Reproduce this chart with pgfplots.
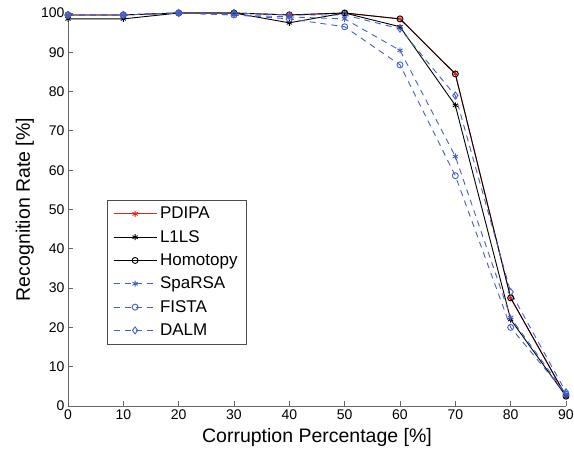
\documentclass[border=0pt]{standalone}
\usepackage{pgfplots}
\pgfplotsset{compat=1.18}
\usepackage{fontspec}
\setmainfont{Liberation Sans}
\definecolor{mblue}{RGB}{70,95,200}
\definecolor{mred}{RGB}{225,35,25}
\begin{document}
\begin{tikzpicture}
\begin{axis}[
  width=498pt, height=393pt, scale only axis,
  xmin=0, xmax=90, ymin=0, ymax=100,
  xtick={0,10,...,90}, ytick={0,10,...,100},
  axis x line*=bottom, axis y line*=left,
  axis line style={black!60, line width=0.8pt},
  tick style={black!60, line width=0.8pt},
  tick align=inside, major tick length=5pt,
  /pgf/number format/assume math mode=true,
  tick label style={font=\fontsize{14}{16}\selectfont},
  xlabel={Corruption Percentage [\%]},
  ylabel={Recognition Rate [\%]},
  every axis x label/.style={at={(axis description cs:0.5,0)}, anchor=base, yshift=-37pt, font=\fontsize{19.5}{22}\selectfont},
  every axis y label/.style={at={(axis description cs:0,0.5)}, anchor=base, rotate=90, yshift=38pt, font=\fontsize{19.5}{22}\selectfont},
  legend style={at={(0.078,0.157)}, anchor=south west, draw=black!70, line width=0.6pt,
    font=\fontsize{17}{19}\selectfont, row sep=6pt, inner xsep=6pt, inner ysep=5pt,
    nodes={inner xsep=3pt}},
  legend cell align=left,
  legend image code/.code={\draw[mark repeat=2,mark phase=2] plot coordinates {(0pt,0pt)(21.5pt,0pt)(43pt,0pt)};},
  clip=false,
]
\addplot[mred, line width=0.9pt, mark=asterisk, mark size=3pt] coordinates {
(0,99.5)(10,99.5)(20,100)(30,100)(40,99.5)(50,100)(60,98.5)(70,84.5)(80,27.5)(90,2.5)};
\addlegendentry{PDIPA}
\addplot[black, line width=0.9pt, mark=asterisk, mark size=3pt] coordinates {
(0,98.5)(10,98.5)(20,100)(30,100)(40,97.5)(50,100)(60,96.5)(70,76.5)(80,22)(90,2.5)};
\addlegendentry{L1LS}
\addplot[black, line width=0.9pt, mark=o, mark size=3pt] coordinates {
(0,99.5)(10,99.5)(20,100)(30,100)(40,99.5)(50,100)(60,98.5)(70,84.5)(80,27.5)(90,2.5)};
\addlegendentry{Homotopy}
\addplot[mblue, line width=0.9pt, dash pattern=on 6pt off 5pt, mark=asterisk, mark size=3pt, mark options={solid}] coordinates {
(0,99.5)(10,99.5)(20,100)(30,99.5)(40,99)(50,98.5)(60,90.5)(70,63.5)(80,22.5)(90,3)};
\addlegendentry{SpaRSA}
\addplot[mblue, line width=0.9pt, dash pattern=on 6pt off 5pt, mark=o, mark size=3pt, mark options={solid}] coordinates {
(0,99.5)(10,99.5)(20,100)(30,99.5)(40,98.5)(50,96.5)(60,86.8)(70,58.6)(80,20)(90,3)};
\addlegendentry{FISTA}
\addplot[mblue, line width=0.9pt, dash pattern=on 6pt off 5pt, mark=diamond, mark size=3.5pt, mark options={solid}] coordinates {
(0,99.5)(10,99.5)(20,100)(30,100)(40,99.5)(50,99.5)(60,96)(70,79)(80,29)(90,3.5)};
\addlegendentry{DALM}
\end{axis}
\pgfresetboundingbox
\path (-68pt,-49pt) rectangle (506pt,406pt);
\end{tikzpicture}
\end{document}
